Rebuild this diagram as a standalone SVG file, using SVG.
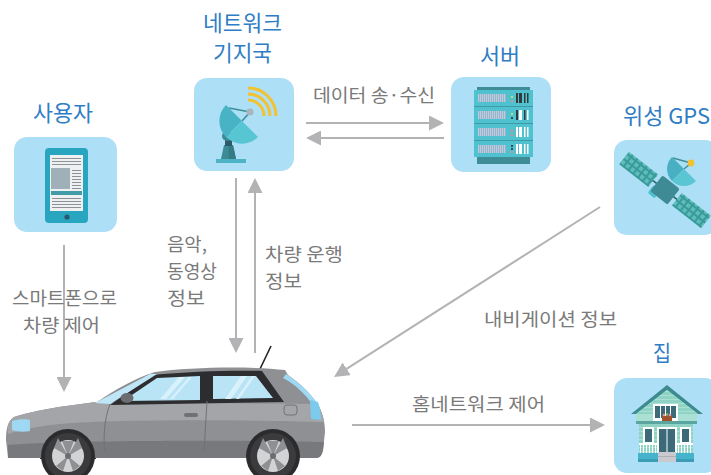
<svg xmlns="http://www.w3.org/2000/svg" width="711" height="475" viewBox="0 0 711 475">
  <defs>
    <style>
      .box { fill: #addff6; }
      .title { font-family: "Noto Sans CJK KR", "Noto Sans", sans-serif; font-size: 22px; fill: #2f7dc4; }
      .label { font-family: "Noto Sans CJK KR", "Noto Sans", sans-serif; font-size: 18px; fill: #7a7a7a; }
      .link { stroke: #b3b3b5; stroke-width: 2; fill: none; marker-end: url(#head); }
      .glass { fill: #3c6a78; }
      .frame { fill: #ffffff; }
    </style>
    <marker id="head" viewBox="0 0 10 10" refX="1" refY="5" markerUnits="userSpaceOnUse" markerWidth="15" markerHeight="15" orient="auto" preserveAspectRatio="none">
      <path d="M0,0 L10,5 L0,10 Z" fill="#b3b3b5"/>
    </marker>
    <pattern id="vent" width="2" height="8" patternUnits="userSpaceOnUse">
      <rect width="2" height="8" fill="#b8cde0"/>
      <rect x="1" width="0.7" height="8" fill="#8fa8c1"/>
    </pattern>
    <pattern id="cells" width="6" height="6" patternUnits="userSpaceOnUse" x="1" y="1">
      <rect width="6" height="6" fill="#3a9a9a"/>
      <rect x="1" y="1" width="4" height="4" fill="#5cbdbb"/>
    </pattern>
    <pattern id="siding" width="4" height="4" patternUnits="userSpaceOnUse">
      <rect width="4" height="4" fill="#8ed3c3"/>
      <rect y="3" width="4" height="1" fill="#a9e0d3"/>
    </pattern>
  </defs>

  <!-- connectors -->
  <g id="connectors">
    <line class="link" x1="306" y1="123" x2="430.5" y2="123"/>
    <line class="link" x1="444" y1="138" x2="319.5" y2="138"/>
    <line class="link" x1="236" y1="178" x2="236" y2="339.5"/>
    <line class="link" x1="255" y1="353" x2="255" y2="191.5"/>
    <line class="link" x1="64" y1="245" x2="64" y2="378.5"/>
    <line class="link" x1="600" y1="207" x2="345.4" y2="369.7"/>
    <line class="link" x1="352" y1="425" x2="591.5" y2="425"/>
  </g>

  <!-- connector labels -->
  <g id="labels">
    <text class="label" x="313" y="102" textLength="122" lengthAdjust="spacingAndGlyphs">데이터 송·수신</text>
    <text class="label" x="167" y="251" textLength="40" lengthAdjust="spacingAndGlyphs">음악,</text>
    <text class="label" x="167" y="278" textLength="50" lengthAdjust="spacingAndGlyphs">동영상</text>
    <text class="label" x="167" y="305" textLength="38" lengthAdjust="spacingAndGlyphs">정보</text>
    <text class="label" x="265" y="261" textLength="78" lengthAdjust="spacingAndGlyphs">차량 운행</text>
    <text class="label" x="265" y="288" textLength="37" lengthAdjust="spacingAndGlyphs">정보</text>
    <text class="label" x="12" y="305" textLength="105" lengthAdjust="spacingAndGlyphs">스마트폰으로</text>
    <text class="label" x="23" y="332" textLength="77" lengthAdjust="spacingAndGlyphs">차량 제어</text>
    <text class="label" x="484" y="326" textLength="133" lengthAdjust="spacingAndGlyphs">내비게이션 정보</text>
    <text class="label" x="412" y="411" textLength="133" lengthAdjust="spacingAndGlyphs">홈네트워크 제어</text>
  </g>

  <!-- user: tablet -->
  <g id="user">
    <text class="title" x="33" y="121" textLength="60" lengthAdjust="spacingAndGlyphs">사용자</text>
    <rect class="box" x="14" y="137" width="103" height="95" rx="13"/>
    <rect x="45" y="148" width="43" height="75" rx="4" fill="#29a6bf"/>
    <rect x="50" y="155" width="33" height="56" fill="#eef0f1"/>
    <g stroke="#8d9296" stroke-width="1">
      <line x1="52" y1="158.5" x2="81" y2="158.5"/>
      <line x1="52" y1="161.5" x2="81" y2="161.5"/>
      <line x1="52" y1="164.5" x2="81" y2="164.5"/>
      <line x1="72" y1="170.5" x2="81" y2="170.5"/>
      <line x1="72" y1="173.5" x2="81" y2="173.5"/>
      <line x1="72" y1="176.5" x2="81" y2="176.5"/>
      <line x1="72" y1="179.5" x2="81" y2="179.5"/>
      <line x1="72" y1="182.5" x2="81" y2="182.5"/>
      <line x1="72" y1="185.5" x2="81" y2="185.5"/>
      <line x1="72" y1="188.5" x2="81" y2="188.5"/>
      <line x1="52" y1="198.5" x2="81" y2="198.5"/>
      <line x1="52" y1="201.5" x2="81" y2="201.5"/>
      <line x1="52" y1="204.5" x2="81" y2="204.5"/>
      <line x1="52" y1="207.5" x2="81" y2="207.5"/>
    </g>
    <rect x="51" y="168" width="19" height="21" fill="#9fb0b9"/>
    <rect x="51" y="191" width="31" height="4" fill="#429ca7"/>
    <circle cx="67" cy="217" r="2.6" fill="#2b5776"/>
  </g>

  <!-- network base station: dish antenna -->
  <g id="base-station">
    <text class="title" x="203" y="31" textLength="79" lengthAdjust="spacingAndGlyphs">네트워크</text>
    <text class="title" x="213" y="61" textLength="59" lengthAdjust="spacingAndGlyphs">기지국</text>
    <rect class="box" x="194" y="78" width="100" height="93" rx="13"/>
    <g fill="none" stroke="#f1c232" stroke-width="3">
      <path d="M248,100 A16,16 0 0 1 264,116"/>
      <path d="M248,94 A22,22 0 0 1 270,116"/>
      <path d="M248,88 A28,28 0 0 1 276,116"/>
    </g>
    <rect x="216" y="159" width="30" height="4" fill="#4db3c7"/>
    <polygon points="221,159 236,159 233,145 224,145" fill="#3c8a94"/>
    <polygon points="228.5,159 236,159 233,145 228.5,145" fill="#347b85"/>
    <rect x="225" y="139" width="7" height="7" fill="#2c5a66"/>
    <circle cx="227" cy="136" r="5" fill="#3d8a93"/>
    <g stroke="#3d8e99" stroke-width="1.6">
      <line x1="229" y1="108" x2="250" y2="112"/>
      <line x1="242" y1="121" x2="250" y2="112"/>
    </g>
    <path d="M226,105 A22.6,22.6 0 0 0 226,137 L242,121 Z" fill="#47b3c4"/>
    <path d="M226,137 A22.6,22.6 0 0 0 258,137 L242,121 Z" fill="#58c5d3"/>
    <circle cx="250" cy="112" r="3.6" fill="#a9b6be"/>
  </g>

  <!-- server rack -->
  <g id="server">
    <text class="title" x="480" y="64" textLength="40" lengthAdjust="spacingAndGlyphs">서버</text>
    <rect class="box" x="451" y="77" width="100" height="95" rx="13"/>
    <rect x="477" y="87" width="53" height="4" fill="#3e8d96"/>
    <rect x="477" y="156" width="53" height="8" fill="#3e8d96"/>
    <g fill="#4fc1cf">
      <rect x="474" y="90" width="59" height="16"/>
      <rect x="474" y="107" width="59" height="16"/>
      <rect x="474" y="124" width="59" height="16"/>
      <rect x="474" y="141" width="59" height="16"/>
    </g>
    <g fill="#3e9aa5">
      <rect x="474" y="106" width="59" height="1"/>
      <rect x="474" y="123" width="59" height="1"/>
      <rect x="474" y="140" width="59" height="1"/>
    </g>
    <g fill="url(#vent)">
      <rect x="478" y="94" width="28" height="8"/>
      <rect x="478" y="111" width="28" height="8"/>
      <rect x="478" y="128" width="28" height="8"/>
      <rect x="478" y="145" width="28" height="8"/>
    </g>
    <!-- status lights -->
    <rect x="511" y="96" width="2" height="2" fill="#b6e36b"/>
    <rect x="511" y="100" width="2" height="2" fill="#e58a8a"/>
    <rect x="511" y="113" width="2" height="2" fill="#b6e36b"/>
    <rect x="511" y="117" width="2" height="2" fill="#2f4f5a"/>
    <rect x="511" y="130" width="2" height="2" fill="#e58a8a"/>
    <rect x="511" y="134" width="2" height="2" fill="#e58a8a"/>
    <rect x="511" y="145" width="2" height="2" fill="#2f4f5a"/>
    <rect x="511" y="148" width="2" height="2" fill="#2f4f5a"/>
    <rect x="511" y="151" width="2" height="2" fill="#e58a8a"/>
    <!-- drive bays -->
    <g fill="#333a3c">
      <rect x="516" y="93" width="2" height="10"/>
      <rect x="519" y="93" width="3" height="10"/>
      <rect x="524" y="93" width="1.5" height="10"/>
      <rect x="527" y="93" width="1.5" height="10"/>
      <rect x="516" y="110" width="2" height="10"/>
      <rect x="524" y="110" width="1.5" height="10"/>
    </g>
    <g fill="#ffffff">
      <rect x="519" y="110" width="3" height="10"/>
      <rect x="527" y="110" width="1.5" height="10"/>
      <rect x="516" y="127" width="2" height="10"/>
      <rect x="519" y="127" width="3" height="10"/>
      <rect x="524" y="127" width="1.5" height="10"/>
      <rect x="527" y="127" width="1.5" height="10"/>
      <rect x="516" y="144" width="2" height="10"/>
      <rect x="519" y="144" width="3" height="10"/>
      <rect x="524" y="144" width="1.5" height="10"/>
      <rect x="527" y="144" width="1.5" height="10"/>
    </g>
  </g>

  <!-- GPS satellite -->
  <g id="satellite">
    <text class="title" x="623" y="124" textLength="87" lengthAdjust="spacingAndGlyphs">위성 GPS</text>
    <rect class="box" x="614" y="140" width="104" height="95" rx="13"/>
    <g transform="translate(665,190) rotate(38)">
      <line x1="-16" y1="0" x2="16" y2="0" stroke="#2d5f66" stroke-width="1.5"/>
      <rect x="-52" y="-8" width="37" height="16" fill="url(#cells)"/>
      <rect x="15" y="-8" width="37" height="16" fill="url(#cells)"/>
      <rect x="-12" y="3" width="9" height="10" rx="2" fill="#4fc0cf"/>
      <rect x="-11" y="-10" width="22" height="20" rx="2" fill="#3f8b95"/>
    </g>
    <g stroke="#3d8e99" stroke-width="1.5">
      <line x1="673" y1="158" x2="691" y2="163"/>
      <line x1="684" y1="169" x2="691" y2="163"/>
    </g>
    <path d="M672,157 A17,17 0 0 0 672,181 L684,169 Z" fill="#48b0c2"/>
    <path d="M672,181 A17,17 0 0 0 696,181 L684,169 Z" fill="#5ac6d4"/>
    <circle cx="691" cy="163" r="3.4" fill="#f2c230"/>
  </g>

  <!-- home -->
  <g id="home">
    <text class="title" x="653" y="361" textLength="18" lengthAdjust="spacingAndGlyphs">집</text>
    <rect class="box" x="614" y="378" width="104" height="95" rx="13"/>
    <polygon points="667,385 631,414 636,414 667,390 698,414 703,414" fill="#3d8b8f"/>
    <polygon points="667,390 636,414 698,414" fill="url(#siding)"/>
    <rect x="636" y="421" width="61" height="3" fill="#5aa59f"/>
    <rect x="636" y="414" width="61" height="7" fill="#a9e0d3"/>
    <rect x="639" y="424" width="54" height="29" fill="url(#siding)"/>
    <!-- upper window with flower box -->
    <rect class="frame" x="653" y="404" width="25" height="17"/>
    <rect class="glass" x="655" y="406" width="21" height="12"/>
    <g fill="#ffffff">
      <rect x="660" y="406" width="1" height="12"/>
      <rect x="665" y="406" width="1" height="12"/>
      <rect x="670" y="406" width="1" height="12"/>
    </g>
    <rect x="662" y="416" width="10" height="5" fill="#a0522d"/>
    <circle cx="664" cy="415" r="1.3" fill="#e88fb0"/>
    <circle cx="667" cy="414.5" r="1.3" fill="#8bc34a"/>
    <circle cx="670" cy="415" r="1.3" fill="#e88fb0"/>
    <!-- side windows -->
    <rect class="frame" x="643" y="427" width="11" height="16"/>
    <rect class="glass" x="645" y="429" width="7" height="13"/>
    <rect class="frame" x="680" y="427" width="11" height="16"/>
    <rect class="glass" x="682" y="429" width="7" height="13"/>
    <!-- door -->
    <rect class="frame" x="657" y="427" width="20" height="26"/>
    <rect class="glass" x="659" y="429" width="16" height="24"/>
    <rect x="666.5" y="429" width="1" height="24" fill="#ffffff"/>
    <!-- porch railing -->
    <g fill="#ffffff">
      <rect x="639" y="443" width="18" height="2"/>
      <rect x="677" y="443" width="16" height="2"/>
    </g>
    <g stroke="#ffffff" stroke-width="1">
      <path d="M640.5,445 V453 M643.5,445 V453 M646.5,445 V453 M649.5,445 V453 M652.5,445 V453 M655.5,445 V453"/>
      <path d="M678.5,445 V453 M681.5,445 V453 M684.5,445 V453 M687.5,445 V453 M690.5,445 V453"/>
    </g>
    <rect x="638" y="453" width="56" height="9" fill="#45b3cc"/>
    <rect x="638" y="459" width="56" height="3" fill="#3a9db5"/>
    <rect x="658" y="452" width="18" height="10" fill="#c9c9cf"/>
    <rect x="658" y="456" width="18" height="1" fill="#aeaeb5"/>
  </g>

  <!-- car -->
  <g id="car">
    <line x1="260" y1="369" x2="271" y2="346" stroke="#222" stroke-width="1.6"/>
    <path d="M8,458 L6,440 C6,428 8,421 14,417 C35,410 70,405 97,402 C115,390 135,378 155,372 C190,367 250,366 285,370 L288,375 C300,383 312,395 318,405 C322,412 325,420 325,432 L323,450 C322,455 320,458 316,458 Z" fill="#8e9093"/>
    <!-- upper shoulder highlight -->
    <path d="M14,417 C35,410 70,405 97,402 L318,404 C321,410 323,416 324,422 C260,420 120,419 60,424 C40,426 20,430 8,434 C7,426 9,420 14,417 Z" fill="#a3a5a8"/>
    <!-- lower sill -->
    <path d="M8,445 C60,440 260,440 324,442 L323,450 C322,455 320,458 316,458 L8,458 Z" fill="#77797c"/>
    <!-- window frame and glass -->
    <path d="M110,405 L152,375 C190,371 240,370 262,371 L284,402 Z" fill="#2d2d2f"/>
    <path d="M123,401 L157,378 L200,376 L200,400 Z" fill="#b9e4f6"/>
    <path d="M213,376 L256,376 L273,398 L213,399 Z" fill="#b9e4f6"/>
    <g fill="#d9f1fb">
      <path d="M160,399 L179,377 L185,377 L166,399 Z"/>
      <path d="M170,399 L189,377 L192,377 L173,399 Z"/>
      <path d="M225,399 L241,376 L247,376 L231,399 Z"/>
      <path d="M236,399 L252,376 L255,376 L239,399 Z"/>
    </g>
    <path d="M95,403 L150,374 L157,374 L110,404 Z" fill="#bfe6f7"/>
    <path d="M286,374 C298,382 310,392 317,403 L313,405 C305,394 295,384 283,378 Z" fill="#9fd8f2"/>
    <!-- lights, mirror, details -->
    <path d="M12,421 C18,419 26,419 30,420 L30,431 C24,432 17,432 12,430 Z" fill="#9fd8f2"/>
    <path d="M310,400 L318,402 C320,408 321,414 321,420 L311,419 Z" fill="#7ccbed"/>
    <ellipse cx="127" cy="398" rx="6.5" ry="5" fill="#6b6d70"/>
    <rect x="184" y="413" width="14" height="4" rx="2" fill="#6f7174"/>
    <rect x="284" y="405" width="13" height="10" rx="3" fill="none" stroke="#707275" stroke-width="1"/>
    <path d="M110,404 C104,420 103,440 105,452 M207,401 L204,452" stroke="#707275" stroke-width="1" fill="none"/>
    <!-- wheels -->
    <circle cx="68" cy="456" r="27" fill="#2b2b2d"/>
    <circle cx="273" cy="456" r="27" fill="#2b2b2d"/>
    <rect x="40" y="458" width="56" height="1" fill="#2b2b2d"/>
    <circle cx="68" cy="456" r="23" fill="#3b3b3d"/>
    <circle cx="273" cy="456" r="23" fill="#3b3b3d"/>
    <circle cx="68" cy="456" r="16" fill="#d2d3d5"/>
    <circle cx="273" cy="456" r="16" fill="#d2d3d5"/>
    <g fill="#8e9093">
      <path d="M68,456 L62,441 L74,441 Z M68,456 L54,448 L58,438 Z"/>
      <path d="M68,456 L82,448 L78,438 Z M68,456 L80,466 L73,471 Z M68,456 L56,466 L63,471 Z"/>
      <path d="M273,456 L267,441 L279,441 Z M273,456 L259,448 L263,438 Z"/>
      <path d="M273,456 L287,448 L283,438 Z M273,456 L285,466 L278,471 Z M273,456 L261,466 L268,471 Z"/>
    </g>
    <circle cx="68" cy="456" r="3" fill="#6b6d70"/>
    <circle cx="273" cy="456" r="3" fill="#6b6d70"/>
  </g>
</svg>
